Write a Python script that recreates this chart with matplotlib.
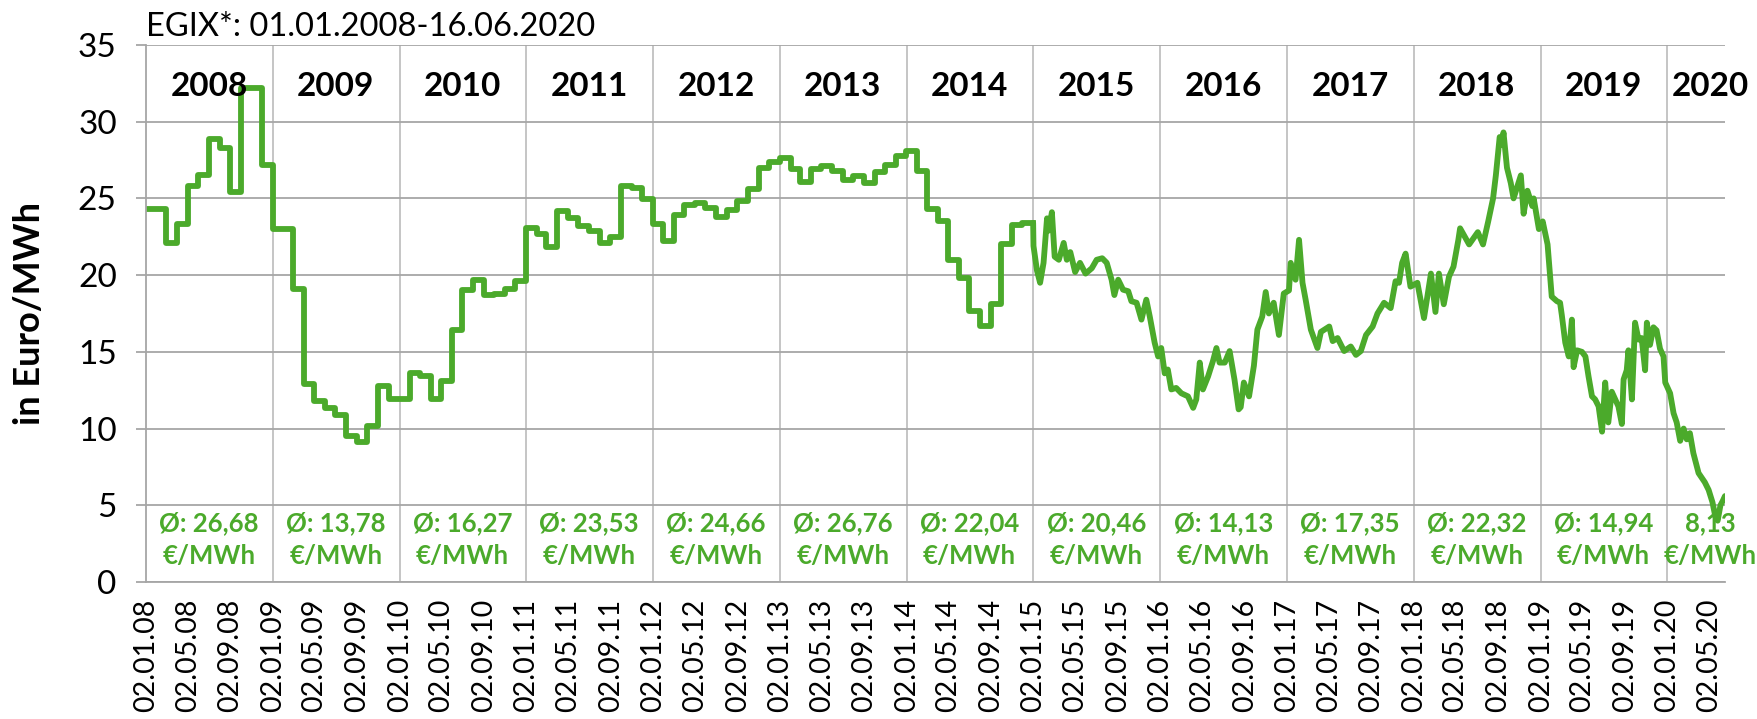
import numpy as np
import pandas as pd
import matplotlib
matplotlib.use("Agg")
import matplotlib.pyplot as plt
import matplotlib.dates as mdates

plt.rcParams['font.family'] = ['Lato', 'DejaVu Sans']

# EGIX monthly index 2008-01 .. 2014-12 (Euro/MWh)
monthly_values = [
    24.3, 24.3, 22.1, 23.3, 25.8, 26.5, 28.9, 28.3, 25.4, 32.2, 32.2, 27.2,   # 2008
    23.0, 23.0, 19.1, 12.9, 11.8, 11.35, 10.9, 9.5, 9.1, 10.15, 12.8, 11.9,   # 2009
    11.9, 13.6, 13.45, 11.9, 13.1, 16.4, 19.05, 19.7, 18.7, 18.8, 19.1, 19.6,  # 2010
    23.1, 22.7, 21.8, 24.15, 23.7, 23.2, 22.9, 22.1, 22.5, 25.8, 25.7, 24.95,  # 2011
    23.3, 22.2, 23.9, 24.6, 24.7, 24.4, 23.8, 24.25, 24.8, 25.6, 27.0, 27.4,   # 2012
    27.65, 26.9, 26.05, 26.9, 27.1, 26.8, 26.2, 26.45, 26.0, 26.75, 27.15, 27.75,  # 2013
    28.1, 26.8, 24.3, 23.5, 21.0, 19.8, 17.65, 16.7, 18.15, 22.0, 23.25, 23.4,  # 2014
]

# EGIX daily index from 2015 (readings)
daily_dates = [
    "2015-01-02", "2015-01-12", "2015-01-21", "2015-01-31", "2015-02-10", "2015-02-15",
    "2015-02-24", "2015-03-04", "2015-03-16", "2015-03-30", "2015-04-08", "2015-04-18",
    "2015-05-02", "2015-05-16", "2015-06-01", "2015-06-19", "2015-07-03", "2015-07-19",
    "2015-08-01", "2015-08-15", "2015-08-23", "2015-09-03", "2015-09-17", "2015-10-02",
    "2015-10-11", "2015-10-26", "2015-11-09", "2015-11-23", "2015-12-03", "2015-12-17",
    "2015-12-27", "2016-01-05", "2016-01-15", "2016-01-24", "2016-02-03", "2016-02-17",
    "2016-03-03", "2016-03-22", "2016-04-06", "2016-04-15", "2016-04-25", "2016-05-04",
    "2016-05-19", "2016-06-02", "2016-06-12", "2016-06-21", "2016-07-06", "2016-07-20",
    "2016-08-03", "2016-08-15", "2016-08-21", "2016-08-30", "2016-09-14", "2016-09-28",
    "2016-10-08", "2016-10-22", "2016-11-01", "2016-11-10", "2016-11-24", "2016-12-09",
    "2016-12-23", "2017-01-07", "2017-01-12", "2017-01-26", "2017-02-05", "2017-02-15",
    "2017-02-24", "2017-03-11", "2017-03-30", "2017-04-09", "2017-05-03", "2017-05-13",
    "2017-05-27", "2017-06-15", "2017-07-04", "2017-07-19", "2017-08-02", "2017-08-17",
    "2017-09-05", "2017-09-19", "2017-10-08", "2017-10-27", "2017-11-10", "2017-11-20",
    "2017-11-29", "2017-12-09", "2017-12-23", "2018-01-12", "2018-01-31", "2018-02-20",
    "2018-03-05", "2018-03-15", "2018-03-29", "2018-04-13", "2018-04-26", "2018-05-10",
    "2018-05-15", "2018-06-10", "2018-07-05", "2018-07-20", "2018-08-04", "2018-08-18",
    "2018-08-26", "2018-09-06", "2018-09-13", "2018-09-17", "2018-09-27", "2018-10-08",
    "2018-10-16", "2018-11-06", "2018-11-14", "2018-11-25", "2018-12-09", "2018-12-13",
    "2018-12-28", "2019-01-08", "2019-01-22", "2019-02-03", "2019-02-18", "2019-02-27",
    "2019-03-04", "2019-03-14", "2019-03-24", "2019-04-02", "2019-04-07", "2019-04-17",
    "2019-05-01", "2019-05-11", "2019-05-20", "2019-05-30", "2019-06-08", "2019-06-18",
    "2019-06-28", "2019-07-07", "2019-07-16", "2019-07-26", "2019-08-05", "2019-08-14",
    "2019-08-24", "2019-08-29", "2019-09-07", "2019-09-12", "2019-09-22", "2019-10-01",
    "2019-10-11", "2019-10-20", "2019-10-30", "2019-11-04", "2019-11-13", "2019-11-23",
    "2019-12-02", "2019-12-12", "2019-12-22", "2019-12-27", "2020-01-10", "2020-01-20",
    "2020-01-29", "2020-02-08", "2020-02-18", "2020-02-27", "2020-03-07", "2020-03-17",
    "2020-04-01", "2020-04-19", "2020-04-30", "2020-05-11", "2020-05-19", "2020-05-26",
    "2020-06-03", "2020-06-10", "2020-06-16",
]
daily_values = [
    21.9, 20.3, 19.5, 20.8, 23.7, 22.9,
    24.1, 21.2, 21.0, 22.1, 21.0, 21.5,
    20.2, 20.8, 20.1, 20.45, 21.0, 21.1,
    20.8, 19.7, 18.7, 19.7, 19.05, 18.95,
    18.3, 18.2, 17.1, 18.4, 17.3, 15.6,
    14.7, 15.25, 13.6, 13.85, 12.55, 12.65,
    12.3, 12.1, 11.35, 11.9, 14.3, 12.55,
    13.4, 14.4, 15.25, 14.3, 14.3, 15.05,
    13.2, 11.25, 11.4, 13.0, 12.1, 14.1,
    16.45, 17.3, 18.9, 17.5, 18.2, 16.1,
    18.8, 19.0, 20.8, 19.7, 22.3, 19.5,
    18.4, 16.45, 15.25, 16.3, 16.65, 15.7,
    15.9, 15.05, 15.35, 14.8, 15.05, 16.1,
    16.65, 17.5, 18.2, 17.85, 19.6, 19.5,
    20.8, 21.4, 19.25, 19.5, 17.2, 20.1,
    17.6, 20.1, 18.1, 19.9, 20.55, 22.3,
    23.05, 22.0, 22.8, 22.0, 23.5, 25.0,
    26.5, 29.0, 28.5, 29.3, 27.0, 26.0,
    25.0, 26.5, 24.0, 25.5, 24.5, 25.0,
    23.0, 23.5, 22.0, 18.6, 18.3, 18.2,
    17.4, 15.6, 14.7, 17.1, 14.0, 15.1,
    15.0, 14.7, 13.4, 12.1, 11.9, 11.45,
    9.8, 13.0, 10.4, 12.4, 11.9, 11.45,
    10.3, 13.2, 13.8, 15.1, 11.9, 16.9,
    15.8, 15.9, 13.8, 16.9, 15.45, 16.6,
    16.4, 15.2, 14.7, 13.0, 12.3, 11.0,
    10.4, 9.2, 10.0, 9.3, 9.7, 8.4,
    7.1, 6.5, 6.0, 5.2, 4.3, 4.0,
    5.0, 5.3, 5.6,
]

years = list(range(2008, 2021))
year_avgs = ["26,68", "13,78", "16,27", "23,53", "24,66", "26,76", "22,04",
             "20,46", "14,13", "17,35", "22,32", "14,94", "8,13"]

green = '#4BAA2B'

fig = plt.figure(figsize=(17.58, 7.19), dpi=100)
ax = fig.add_axes([0.083, 0.1905, 0.8982, 0.747])

# monthly part as steps, daily part as line
m_dates = list(pd.date_range('2008-01-01', periods=len(monthly_values), freq='MS')) + [pd.Timestamp('2015-01-01')]
m_vals = monthly_values + [monthly_values[-1]]
ax.plot(m_dates, m_vals, drawstyle='steps-post', color=green, lw=4.2, solid_joinstyle='round')
d_dates = [pd.Timestamp('2015-01-01')] + [pd.Timestamp(d) for d in daily_dates]
d_vals = [monthly_values[-1]] + daily_values
ax.plot(d_dates, d_vals, color=green, lw=4.2, solid_joinstyle='round', solid_capstyle='round')

ax.set_ylim(0, 35)
ax.set_yticks(range(0, 36, 5))
ax.set_xlim(pd.Timestamp('2008-01-02'), pd.Timestamp('2020-06-16'))

# horizontal grid
ax.yaxis.grid(True, color='#A6A6A6', lw=1.3)
ax.set_axisbelow(True)
# vertical year lines
for y in years[1:]:
    ax.axvline(pd.Timestamp(f'{y}-01-02'), color='#C0C0C0', lw=1.3, zorder=0)

tick_dates = [pd.Timestamp(f'{y}-{m:02d}-02') for y in years for m in (1, 5, 9)
              if pd.Timestamp(f'{y}-{m:02d}-02') <= pd.Timestamp('2020-06-16')]
ax.set_xticks(tick_dates)
ax.set_xticklabels([d.strftime('%d.%m.%y') for d in tick_dates], rotation=90)
ax.tick_params(axis='x', length=0, labelsize=20.5, pad=12)
ax.tick_params(axis='y', length=7, color='#A6A6A6', width=1.3, labelsize=24, pad=14)

for s in ['top', 'right']:
    ax.spines[s].set_visible(False)
ax.spines['left'].set_color('#A6A6A6')
ax.spines['bottom'].set_color('#A6A6A6')
ax.spines['left'].set_linewidth(1.3)
ax.spines['bottom'].set_linewidth(1.3)

ax.set_ylabel('in Euro/MWh', fontsize=26, fontweight='bold')
ax.yaxis.set_label_coords(-0.063, 0.5)

# year names and averages
for y, a in zip(years, year_avgs):
    if y < 2020:
        xc = pd.Timestamp(f'{y}-07-02')
        txt = 'Ø: ' + a + '\n€/MWh'
    else:
        xc = pd.Timestamp('2020-05-05')
        txt = a + '\n€/MWh'
    ax.text(xc, 32.3, str(y), ha='center', va='center', fontsize=24, fontweight='bold')
    ax.text(xc, 2.75, txt, ha='center', va='center', fontsize=18.5, fontweight='bold',
            color=green, linespacing=1.45)

ax.text(0.0, 1.005, 'EGIX*: 01.01.2008-16.06.2020', transform=ax.transAxes,
        ha='left', va='bottom', fontsize=23.5)

fig.savefig('out.png', dpi=100)
